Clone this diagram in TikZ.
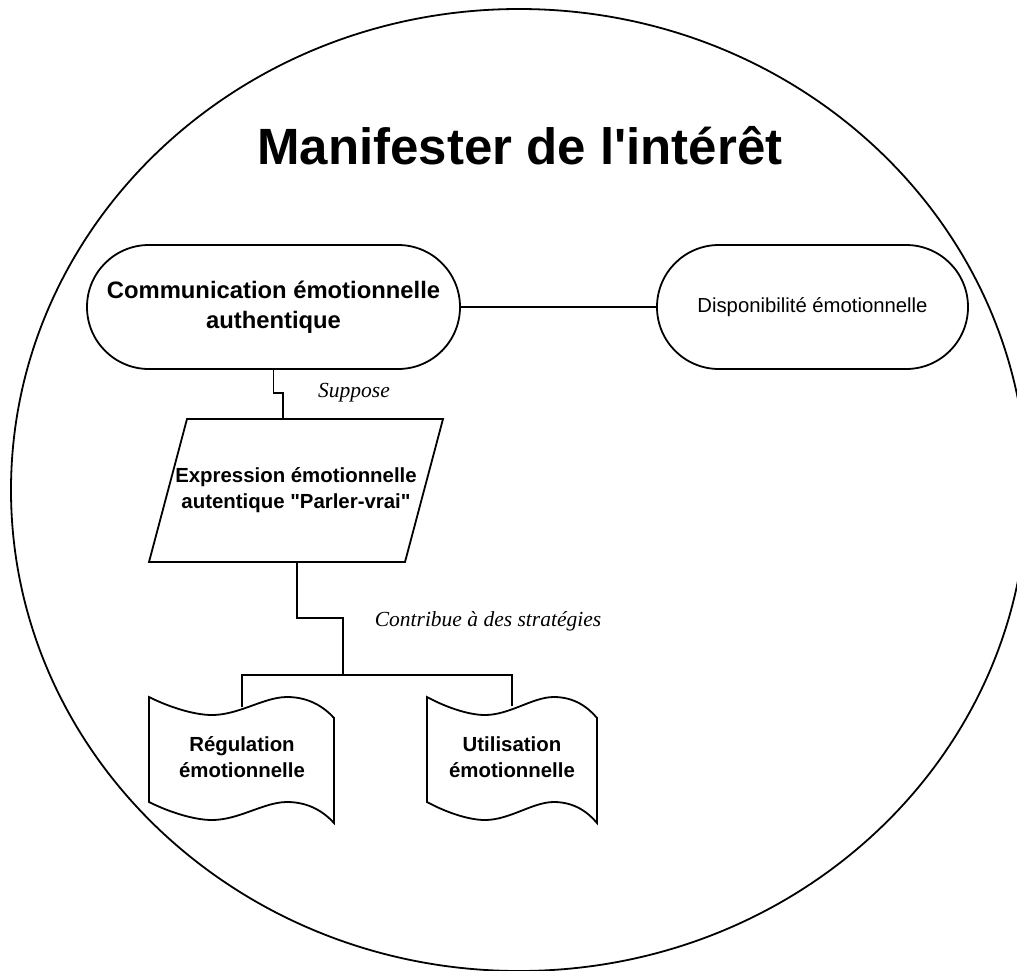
\documentclass[tikz,border=0pt]{standalone}
\usepackage{fontspec}
\newfontfamily\arial{Liberation Sans}
\newfontfamily\lserif{Liberation Serif}
\usetikzlibrary{shapes.geometric}
\tikzset{
  line/.style={draw=black, line width=1.8pt},
  lbl/.style={font=\lserif\itshape\fontsize{21.5}{26}\selectfont, inner sep=0pt},
  boldtxt/.style={font=\arial\bfseries\fontsize{20.4}{25.5}\selectfont, align=center, inner sep=0pt},
}
\newcommand\tapepath{(0,0) .. controls (20,10) and (45,18) .. (63,18) .. controls (90,18) and (115,0) .. (138,0) .. controls (160,0) and (175,10) .. (185,21) -- (185,126) .. controls (175,115) and (160,105) .. (138,105) .. controls (115,105) and (90,123) .. (63,123) .. controls (45,123) and (20,115) .. (0,105) -- cycle}
\begin{document}
\begin{tikzpicture}[x=1pt, y=-1pt]
\useasboundingbox (0,0) rectangle (1017,970);
\fill[white] (0,0) rectangle (1017,970);
% frame ellipse
\node[ellipse, line, minimum width=1016pt, minimum height=962pt, inner sep=0pt] (frame) at (519,490) {};
% title
\node[font=\arial\bfseries\fontsize{51}{60}\selectfont, anchor=base, inner sep=0pt] (title) at (520,164) {Manifester de l'intérêt};
% terminators
\node[line, rounded corners=61.9pt, minimum width=373pt, minimum height=124pt, boldtxt, font=\arial\bfseries\fontsize{23.8}{30}\selectfont] (comm) at (273.5,307) {Communication émotionnelle\\authentique};
\node[line, rounded corners=61.9pt, minimum width=311pt, minimum height=124pt, align=center, font=\arial\fontsize{20.3}{24}\selectfont] (dispo) at (812.5,307) {Disponibilité émotionnelle};
\draw[line] (comm.east) -- (dispo.west);
% parallelogram
\draw[line] (149,562) -- (405,562) -- (443,419) -- (187,419) -- cycle;
\node[boldtxt] (expr) at (296,490) {Expression émotionnelle\\autentique "Parler-vrai"};
\coordinate (etop) at (283,419);
\coordinate (ebot) at (297,562);
\draw[line] (comm.south) -- (273.5,393) -| (etop);
\node[lbl] (suppose) at (354,393) {Suppose};
% tapes
\begin{scope}[shift={(149,697)}]
  \draw[line] \tapepath;
\end{scope}
\begin{scope}[shift={(427,697)}, xscale=0.919]
  \draw[line] \tapepath;
\end{scope}
\node[boldtxt] (reg) at (242,757) {Régulation\\émotionnelle};
\node[boldtxt] (util) at (512,757) {Utilisation\\émotionnelle};
\coordinate (regtop) at (242,707);
\coordinate (utiltop) at (512,706);
\coordinate (junc) at (343,675);
\draw[line] (ebot) -- (297,618) -| (junc);
\draw[line] (regtop) |- (junc) -| (utiltop);
\node[lbl] (contrib) at (488,621) {Contribue à des stratégies};
\end{tikzpicture}
\end{document}
